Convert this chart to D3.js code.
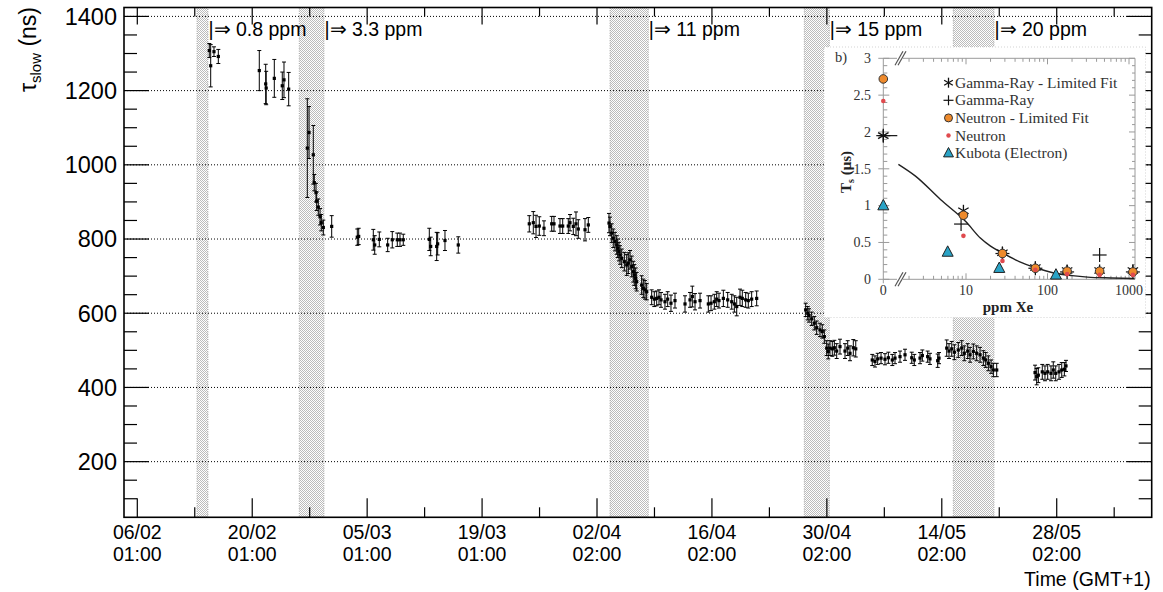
<!DOCTYPE html>
<html><head><meta charset="utf-8">
<script src="https://cdn.jsdelivr.net/npm/d3@7"></script>
<style>body{margin:0;background:#fff}svg{display:block}</style>
</head><body><svg id="c" width="1163" height="592"></svg>
<script>
// ---------- main data (time in days since 06/02 01:00, tau_slow in ns) ----------
const tDays = [8.77,8.94,9.34,9.87,14.86,15.64,15.70,16.69,17.66,17.87,18.44,
20.71,20.92,21.44,21.56,21.77,21.85,22.05,22.26,22.41,22.66,23.68,
26.80,26.97,28.75,28.92,29.48,30.50,31.06,31.67,32.00,32.40,35.57,35.74,36.47,36.59,37.48,39.10,
47.75,48.24,48.57,48.97,49.54,50.48,50.76,51.49,51.82,52.50,52.71,53.11,53.44,53.72,54.54,54.94,
57.46,57.58,57.79,57.98,58.19,58.40,58.52,58.68,58.80,59.01,59.33,59.62,59.81,60.02,60.23,60.42,60.54,60.71,60.83,61.44,61.64,61.85,62.05,
62.66,62.98,63.27,63.55,63.80,64.28,64.61,65.01,65.50,66.72,67.33,67.61,67.94,68.55,69.56,69.89,70.29,70.58,70.86,71.39,71.92,72.41,72.73,73.02,73.42,73.70,74.11,74.43,74.84,75.45,
81.42,81.67,81.83,82.15,82.47,82.76,83.16,83.44,83.69,83.98,84.17,84.38,84.66,84.91,85.20,85.60,86.21,86.54,86.82,87.22,87.52,
89.53,89.86,90.19,90.60,91.08,91.49,91.97,92.30,92.91,93.52,94.34,94.65,95.35,95.63,96.28,96.56,97.50,97.66,
98.60,98.88,99.21,99.53,100.01,100.43,100.74,101.16,101.44,101.84,102.25,102.66,103.06,103.35,103.67,104.00,104.28,104.69,
109.36,109.56,109.76,110.24,110.57,110.90,111.30,111.58,111.88,112.28,112.61,112.93,113.13];
const tauNs = [1308,1267,1305,1292,1254,1218,1207,1233,1213,1229,1204,
1045,1087,1027,952,925,902,886,860,844,831,834,
805,807,798,784,799,784,798,798,798,798,799,780,780,787,796,784,
841,844,834,835,829,841,841,835,835,835,844,834,841,827,825,838,
843,834,816,802,793,784,775,766,757,748,739,730,735,744,726,712,703,694,685,676,667,663,658,
643,638,640,643,636,631,638,627,634,625,636,645,631,634,625,627,631,638,634,640,636,631,625,618,643,640,636,634,638,640,
609,600,594,585,573,561,555,551,537,506,497,506,504,507,498,510,498,506,492,507,504,
474,470,477,479,476,480,474,479,483,488,480,474,479,486,483,477,472,479,
506,498,504,495,501,506,492,498,488,497,492,488,479,474,465,456,447,447,
440,429,433,442,438,442,438,447,438,442,447,449,458];
const tauErr = [19,57,13,19,54,53,45,51,37,48,45,
133,70,79,22,25,25,22,22,22,20,29,
22,22,28,25,20,18,22,18,18,15,30,25,38,30,27,22,
22,30,30,25,20,20,20,20,20,20,22,22,32,25,30,20,
26,25,25,25,25,25,25,25,25,25,25,28,28,25,28,28,28,28,25,25,25,25,22,
20,20,20,20,20,20,20,22,20,22,20,28,22,20,22,20,20,20,20,22,20,20,22,25,22,22,20,20,20,20,
18,18,18,18,18,18,18,18,18,20,20,20,20,20,20,20,20,20,20,22,22,
15,15,15,15,15,15,15,15,15,15,15,15,15,15,15,15,18,15,
22,20,20,20,20,20,20,20,20,20,20,20,20,20,20,18,18,18,
20,22,20,20,20,20,20,22,20,20,20,18,15];

const bandStart = [7.27, 19.73, 57.58, 81.25, 99.40];
const bandEnd   = [8.61, 22.74, 62.25, 84.30, 104.36];
const ppmLabels = ["|\u21D2 0.8 ppm","|\u21D2 3.3 ppm","|\u21D2 11 ppm","|\u21D2 15 ppm","|\u21D2 20 ppm"];

const xTickDays = [0,14,28,42,56,70,84,98,112];
const xTickDate = ["06/02","20/02","05/03","19/03","02/04","16/04","30/04","14/05","28/05"];
const xTickTime = ["01:00","01:00","01:00","01:00","02:00","02:00","02:00","02:00","02:00"];
const yTicks = [200,400,600,800,1000,1200,1400];

// ---------- inset data (ppm Xe, T_s in us) ----------
const gLimPpm = [0, 9.3, 28, 71, 174, 436, 1116];
const gLimTs  = [1.95, 0.93, 0.36, 0.16, 0.12, 0.12, 0.12];
const gPpm    = [0, 8.7, 28, 71, 174, 436, 1116];
const gTs     = [1.95, 0.75, 0.35, 0.15, 0.10, 0.33, 0.10];
const nLimPpm = [0, 9.3, 28, 71, 174, 436, 1116];
const nLimTs  = [2.72, 0.87, 0.35, 0.15, 0.11, 0.11, 0.10];
const nPpm    = [0, 9.3, 28, 71, 174, 436, 1116];
const nTs     = [2.42, 0.59, 0.25, 0.13, 0.07, 0.06, 0.06];
const kPpm    = [0, 5.96, 25.6, 127];
const kTs     = [1.0, 0.37, 0.15, 0.06];
const fitPpm  = [1.48, 2.4, 4.9, 10, 15, 20, 30, 45, 70, 120, 200, 310, 600, 1170];
const fitTs   = [1.56, 1.40, 1.08, 0.78, 0.56, 0.45, 0.34, 0.24, 0.16, 0.085, 0.05, 0.03, 0.018, 0.01];
const legendNames = ["Gamma-Ray - Limited Fit","Gamma-Ray","Neutron - Limited Fit","Neutron","Kubota (Electron)"];
const insetYTicks = [0,0.5,1,1.5,2,2.5,3];
const insetYLabels = ["0","0.5","1","1.5","2","2.5","3"];
const insetXTicks = [10,100,1000];

// ---------- layout ----------
const svg = d3.select("#c");
const L=124, R=1151.7, T=7.5, B=517.3;
const x = d3.scaleLinear().domain([-1.62, 123.57]).range([L, R]);
const y = d3.scaleLinear().domain([50, 1424]).range([B, T]);
const SANS = "'Liberation Sans', Arial, Helvetica, sans-serif";
const SERIF = "'Liberation Serif', 'Times New Roman', serif";

const defs = svg.append("defs");
const pat = defs.append("pattern").attr("id","stip").attr("patternUnits","userSpaceOnUse")
  .attr("width",2).attr("height",2);
pat.append("rect").attr("width",2).attr("height",2).attr("fill","#fff");
pat.append("rect").attr("width",1).attr("height",1).attr("fill","#bcbcbc");
pat.append("rect").attr("x",1).attr("y",1).attr("width",1).attr("height",1).attr("fill","#bcbcbc");

// bands
const bands = svg.append("g");
bandStart.forEach((s,i)=>{
  bands.append("rect").attr("x",x(s)).attr("y",T).attr("width",x(bandEnd[i])-x(s)).attr("height",B-T)
    .attr("fill","url(#stip)").attr("stroke","#9a9a9a").attr("stroke-width",0.8).attr("stroke-dasharray","1,1.5");
});

// grid
svg.append("g").selectAll("line").data(yTicks).join("line")
  .attr("x1",L).attr("x2",R).attr("y1",d=>y(d)).attr("y2",d=>y(d))
  .attr("stroke","#000").attr("stroke-width",1).attr("stroke-dasharray","1,2");

// data: error bars and markers
const pts = tDays.map((t,i)=>({t, v:tauNs[i], e:tauErr[i]}));
const gd = svg.append("g").attr("stroke","#000").attr("stroke-width",1);
pts.forEach(p=>{
  const cx = x(p.t), y1 = y(p.v+p.e), y2 = y(p.v-p.e);
  gd.append("line").attr("x1",cx).attr("x2",cx).attr("y1",y1).attr("y2",y2);
  gd.append("line").attr("x1",cx-2).attr("x2",cx+2).attr("y1",y1).attr("y2",y1);
  gd.append("line").attr("x1",cx-2).attr("x2",cx+2).attr("y1",y2).attr("y2",y2);
});
svg.append("g").selectAll("rect").data(pts).join("rect")
  .attr("x",d=>x(d.t)-1.6).attr("y",d=>y(d.v)-1.6).attr("width",3.2).attr("height",3.2).attr("fill","#000");

// frame + ticks
const fr = svg.append("g").attr("stroke","#000");
fr.append("rect").attr("x",L).attr("y",T).attr("width",R-L).attr("height",B-T)
  .attr("fill","none").attr("stroke-width",1.6);
const yMinor = d3.range(100, 1401, 50);
yMinor.forEach(v=>{
  const major = v % 200 === 0;
  const len = major ? 25 : 13;
  fr.append("line").attr("x1",L).attr("x2",L+len).attr("y1",y(v)).attr("y2",y(v)).attr("stroke-width",1.2);
  fr.append("line").attr("x1",R).attr("x2",R-len).attr("y1",y(v)).attr("y2",y(v)).attr("stroke-width",1.2);
});
const xMinor = d3.range(0, 123, 7);
xMinor.forEach(d=>{
  const major = d % 14 === 0;
  fr.append("line").attr("x1",x(d)).attr("x2",x(d)).attr("y1",B).attr("y2",B-(major?19:10)).attr("stroke-width",1.2);
  fr.append("line").attr("x1",x(d)).attr("x2",x(d)).attr("y1",T).attr("y2",T+(major?17:9)).attr("stroke-width",1.2);
});

// y tick labels
svg.append("g").selectAll("text").data(yTicks).join("text")
  .attr("x",L-7).attr("y",d=>y(d)+8.3).attr("text-anchor","end")
  .attr("font-family",SANS).attr("font-size",23.5).text(d=>d);
// x tick labels
const xl = svg.append("g").attr("font-family",SANS).attr("font-size",19.5).attr("text-anchor","middle");
xTickDays.forEach((d,i)=>{
  xl.append("text").attr("x",x(d)).attr("y",538.7).text(xTickDate[i]);
  xl.append("text").attr("x",x(d)).attr("y",560.5).text(xTickTime[i]);
});
svg.append("text").attr("x",R-1).attr("y",586).attr("text-anchor","end")
  .attr("font-family",SANS).attr("font-size",19.5).text("Time (GMT+1)");
// y title
const yt = svg.append("text").attr("transform","translate(36,7) rotate(-90)").attr("text-anchor","end")
  .attr("font-family",SANS).attr("font-size",23);
yt.append("tspan").text("\u03C4");
yt.append("tspan").attr("font-size",15).attr("dy",5).text("slow");
yt.append("tspan").attr("dy",-5).text(" (ns)");

// ppm labels
svg.append("g").selectAll("text").data(ppmLabels).join("text")
  .attr("x",(d,i)=>x(bandEnd[i])+0.5).attr("y",35.5)
  .attr("font-family",SANS).attr("font-size",19.5).text(d=>d);

// ---------- inset ----------
const ig = svg.append("g");
ig.append("rect").attr("x",824).attr("y",47).attr("width",321.5).attr("height",270.5)
  .attr("fill","#fff").attr("stroke","#c8c8c8").attr("stroke-width",0.8).attr("stroke-dasharray","1,2");
const iy = d3.scaleLinear().domain([0,3]).range([279.3, 58.3]);
const ilog = d3.scaleLog().domain([10,1000]).range([966,1129]);
const zeroX = 883.3, iR = 1135, logStart = 903;
const ix = v => v===0 ? zeroX : ilog(v);
const AX = "#9a9a9a";
const ia = ig.append("g").attr("stroke",AX).attr("stroke-width",1);
ia.append("line").attr("x1",zeroX).attr("x2",zeroX).attr("y1",iy(0)).attr("y2",iy(3));
ia.append("line").attr("x1",iR).attr("x2",iR).attr("y1",iy(0)).attr("y2",iy(3));
[0,3].forEach(v=>{
  ia.append("line").attr("x1",zeroX).attr("x2",897).attr("y1",iy(v)).attr("y2",iy(v));
  ia.append("line").attr("x1",logStart).attr("x2",iR).attr("y1",iy(v)).attr("y2",iy(v));
});
// break marks
const bk = ig.append("g").attr("stroke","#555").attr("stroke-width",1.2);
[0,3].forEach(v=>{
  [0,3].forEach(o=>{
    bk.append("line").attr("x1",895+o).attr("y1",iy(v)+7).attr("x2",903+o).attr("y2",iy(v)-7);
  });
});
// y ticks
d3.range(0,31).forEach(k=>{
  const v=k/10, major = k%5===0;
  ia.append("line").attr("x1",major?zeroX-5:zeroX).attr("x2",zeroX+(major?6:4)).attr("y1",iy(v)).attr("y2",iy(v));
  ia.append("line").attr("x1",iR).attr("x2",iR-(major?6:3)).attr("y1",iy(v)).attr("y2",iy(v));
});
// log ticks
[1,10,100,1000].forEach(dec=>{
  d3.range(1,10).forEach(m=>{
    const v=m*dec; const px=ilog(v);
    if(px<logStart+1 || px>iR-1) return;
    const len = m===1?6:3.5;
    ia.append("line").attr("x1",px).attr("x2",px).attr("y1",iy(0)).attr("y2",iy(0)-len);
    ia.append("line").attr("x1",px).attr("x2",px).attr("y1",iy(3)).attr("y2",iy(3)+len);
  });
});
ia.append("line").attr("x1",zeroX).attr("x2",zeroX).attr("y1",iy(0)).attr("y2",iy(0)+4);
const it = ig.append("g").attr("font-family",SERIF).attr("fill","#333");
insetYTicks.forEach((v,i)=>{
  it.append("text").attr("x",871).attr("y",iy(v)+4.8).attr("text-anchor","end").attr("font-size",14).text(insetYLabels[i]);
});
it.append("text").attr("x",zeroX).attr("y",295).attr("text-anchor","middle").attr("font-size",14).text("0");
insetXTicks.forEach(v=>{
  it.append("text").attr("x",ilog(v)).attr("y",295).attr("text-anchor","middle").attr("font-size",14).text(v);
});
it.append("text").attr("x",835).attr("y",62).attr("font-size",14.5).text("b)");
it.append("text").attr("x",1008).attr("y",312).attr("text-anchor","middle").attr("font-size",15)
  .attr("font-weight","bold").attr("fill","#222").text("ppm Xe");
const ytl = it.append("text").attr("transform","translate(851,172) rotate(-90)").attr("text-anchor","middle")
  .attr("font-size",15).attr("font-weight","bold").attr("fill","#222");
ytl.append("tspan").text("T");
ytl.append("tspan").attr("font-size",10).attr("dy",3).text("s");
ytl.append("tspan").attr("dy",-3).text(" (\u03BCs)");

// fit curve
const fit = fitPpm.map((c,i)=>[c, fitTs[i]]);
ig.append("path").datum(fit).attr("fill","none").attr("stroke","#222").attr("stroke-width",1.4)
  .attr("d", d3.line().x(d=>ilog(d[0])).y(d=>iy(d[1])).curve(d3.curveMonotoneX));

// symbol drawers
function asterisk(g,cx,cy,r){
  const p = g.append("g").attr("stroke","#111").attr("stroke-width",1.3);
  [90,30,150].forEach(a=>{
    const rad=a*Math.PI/180;
    p.append("line").attr("x1",cx-r*Math.cos(rad)).attr("y1",cy-r*Math.sin(rad))
      .attr("x2",cx+r*Math.cos(rad)).attr("y2",cy+r*Math.sin(rad));
  });
}
function plus(g,cx,cy,r){
  const p = g.append("g").attr("stroke","#111").attr("stroke-width",1.2);
  p.append("line").attr("x1",cx-r).attr("x2",cx+r).attr("y1",cy).attr("y2",cy);
  p.append("line").attr("x1",cx).attr("x2",cx).attr("y1",cy-r).attr("y2",cy+r);
}
function circ(g,cx,cy,r){ g.append("circle").attr("cx",cx).attr("cy",cy).attr("r",r).attr("fill","#ee8a2c").attr("stroke","#333").attr("stroke-width",1); }
function dot(g,cx,cy,r){ g.append("circle").attr("cx",cx).attr("cy",cy).attr("r",r).attr("fill","#e04a4e"); }
function tri(g,cx,cy,s){
  g.append("path").attr("d",`M${cx},${cy-s*0.62}L${cx+s*0.55},${cy+s*0.42}L${cx-s*0.55},${cy+s*0.42}Z`)
    .attr("fill","#2aa3c6").attr("stroke","#222").attr("stroke-width",1);
}
const im = ig.append("g");
// horizontal error bar for gamma at 0 ppm
im.append("line").attr("x1",ix(0)-5).attr("x2",ix(0)+14).attr("y1",iy(gLimTs[0])).attr("y2",iy(gLimTs[0]))
  .attr("stroke","#111").attr("stroke-width",1.2);
kPpm.forEach((c,i)=>tri(im, ix(c), iy(kTs[i]), 10));
gPpm.forEach((c,i)=>plus(im, ix(c), iy(gTs[i]), 7));
gLimPpm.forEach((c,i)=>asterisk(im, ix(c), iy(gLimTs[i]), 6));
nLimPpm.forEach((c,i)=>circ(im, ix(c), iy(nLimTs[i]), 4.3));
nPpm.forEach((c,i)=>dot(im, ix(c), iy(nTs[i]), 2.3));

// legend
const lg = ig.append("g");
const lx = 948.5, ly0 = 82.7, lstep = 17.6;
const drawers = [(cx,cy)=>asterisk(lg,cx,cy,5),(cx,cy)=>plus(lg,cx,cy,5),(cx,cy)=>circ(lg,cx,cy,4),(cx,cy)=>dot(lg,cx,cy,2.2),(cx,cy)=>tri(lg,cx,cy,9)];
legendNames.forEach((n,i)=>{
  const cy = ly0 + i*lstep;
  drawers[i](lx, cy);
  lg.append("text").attr("x",955).attr("y",cy+5).attr("font-family",SERIF).attr("font-size",15.5)
    .attr("fill","#333").text(n);
});
</script></body></html>
